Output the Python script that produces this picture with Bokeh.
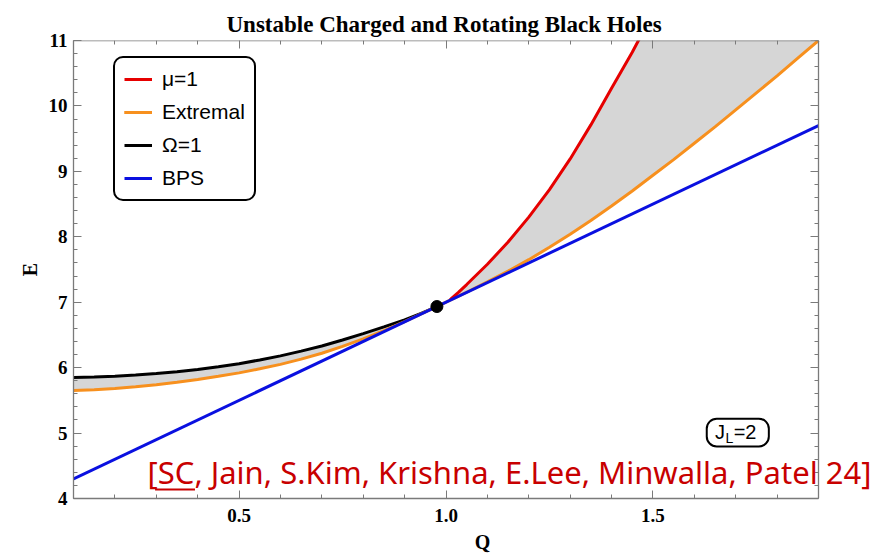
import numpy as np
from bokeh.plotting import figure
from bokeh.models import (Range1d, FixedTicker, LinearAxis, Legend, LegendItem,
                          Label, BoxAnnotation, PrintfTickFormatter)
from bokeh.embed import file_html
from bokeh.resources import INLINE

# ---------------- data ----------------
q_low = [0.1, 0.15, 0.2, 0.25, 0.3, 0.35, 0.4, 0.45, 0.5, 0.55, 0.6, 0.65,
         0.7, 0.75, 0.8, 0.85, 0.9, 0.94, 0.978]
e_extremal_low = [5.65, 5.663, 5.68, 5.708, 5.74, 5.778, 5.82, 5.868, 5.92,
                  5.982, 6.05, 6.13, 6.22, 6.325, 6.44, 6.565, 6.705, 6.822, 6.934]
e_omega = [5.85, 5.858, 5.87, 5.888, 5.91, 5.938, 5.97, 6.013, 6.06, 6.118,
           6.18, 6.253, 6.33, 6.423, 6.52, 6.623, 6.73, 6.83, 6.934]

q_high = [0.978, 1.0, 1.05, 1.1, 1.15, 1.2, 1.25, 1.3, 1.35, 1.4, 1.45, 1.5,
          1.55, 1.6, 1.65, 1.7, 1.75, 1.8, 1.85, 1.9]
e_extremal_high = [6.934, 7.0, 7.152, 7.31, 7.475, 7.65, 7.84, 8.04, 8.25,
                   8.47, 8.70, 8.94, 9.18, 9.43, 9.68, 9.94, 10.2, 10.46,
                   10.73, 11.0]

q_mu = [1.01, 1.03, 1.05, 1.1, 1.15, 1.2, 1.25, 1.3, 1.35, 1.4, 1.45, 1.475]
e_mu = [7.04, 7.15, 7.27, 7.58, 7.92, 8.30, 8.72, 9.19, 9.71, 10.27, 10.82, 11.12]

q_bps = [0.1, 1.9]
e_bps = [4.3, 9.7]

q_point = [0.978]
e_point = [6.934]

x_major = [0.5, 1.0, 1.5]
x_minor = [round(0.1 * i, 1) for i in range(1, 20)]
y_major = [4, 5, 6, 7, 8, 9, 10, 11]
y_minor = [round(4 + 0.2 * i, 1) for i in range(0, 36)]

X_MIN, X_MAX = 0.1, 1.9
Y_MIN, Y_MAX = 4.0, 11.0
# the citation runs past the right edge of the axes box, so the drawing area
# is widened to the right edge of the canvas and the box is drawn by the axes
X_VIEW_END = X_MIN + (X_MAX - X_MIN) * 818.0 / 745.0

RED = "#e60000"
ORANGE = "#f7901e"
BLUE = "#0a10e0"
GRAY_FILL = "#d6d6d6"
FRAME = "#7a7a7a"
CITE = "#c80000"

# ---------------- figure ----------------
p = figure(width=891, height=560, x_range=Range1d(X_MIN, X_VIEW_END),
           y_range=Range1d(Y_MIN, Y_MAX), output_backend="svg",
           toolbar_location=None, min_border_left=73, min_border_right=0,
           min_border_top=40, min_border_bottom=62,
           x_axis_label="Q", y_axis_label="E")
p.background_fill_color = "white"
p.border_fill_color = "white"
p.outline_line_color = None
p.grid.visible = False

p.title.text = "Unstable Charged and Rotating Black Holes"
p.title.align = "left"
p.title.offset = 153
p.title.vertical_align = "top"
p.title.text_font = "Liberation Serif"
p.title.text_font_style = "bold"
p.title.text_font_size = "23px"
p.title.text_color = "black"
p.title.standoff = 4


def style_axis(ax):
    ax.axis_line_color = FRAME
    ax.axis_line_width = 1.3
    ax.major_tick_line_color = FRAME
    ax.minor_tick_line_color = FRAME
    ax.major_tick_in = 8
    ax.major_tick_out = 0
    ax.minor_tick_in = 4
    ax.minor_tick_out = 0
    ax.major_label_text_font = "Liberation Serif"
    ax.major_label_text_font_style = "bold"
    ax.major_label_text_font_size = "19px"
    ax.major_label_text_color = "black"
    ax.axis_label_text_font = "Liberation Serif"
    ax.axis_label_text_font_style = "bold"
    ax.axis_label_text_font_size = "20px"
    ax.axis_label_text_color = "black"


xa = p.xaxis[0]
ya = p.yaxis[0]
xa.ticker = FixedTicker(ticks=x_major, minor_ticks=x_minor)
ya.ticker = FixedTicker(ticks=y_major, minor_ticks=y_minor)
xa.formatter = PrintfTickFormatter(format="%.1f")
style_axis(xa)
style_axis(ya)
xa.bounds = (X_MIN, X_MAX)
ya.bounds = (Y_MIN, Y_MAX)
xa.major_label_standoff = 10
xa.axis_label_standoff = 6
ya.major_label_standoff = 6
ya.axis_label_standoff = 5

top_ax = LinearAxis(ticker=FixedTicker(ticks=x_major, minor_ticks=x_minor),
                    major_label_overrides={t: "" for t in x_major},
                    fixed_location=Y_MAX, bounds=(X_MIN, X_MAX))
right_ax = LinearAxis(ticker=FixedTicker(ticks=y_major, minor_ticks=y_minor),
                      major_label_overrides={t: "" for t in y_major},
                      fixed_location=X_MAX, bounds=(Y_MIN, Y_MAX))
style_axis(top_ax)
style_axis(right_ax)
p.add_layout(top_ax, "above")
p.add_layout(right_ax, "right")

# ---------------- shaded regions ----------------
p.varea(x=q_low, y1=e_extremal_low, y2=e_omega, fill_color=GRAY_FILL)
q_fill = np.linspace(q_mu[0], X_MAX, 400)
lower = np.interp(q_fill, q_high, e_extremal_high)
upper = np.minimum(np.interp(q_fill, q_mu, e_mu), Y_MAX)
p.varea(x=q_fill, y1=lower, y2=upper, fill_color=GRAY_FILL)

# ---------------- curves ----------------
r_omega = p.line(q_low, e_omega, line_color="black", line_width=3)
r_ext_lo = p.line(q_low, e_extremal_low, line_color=ORANGE, line_width=3)
r_ext_hi = p.line(q_high, e_extremal_high, line_color=ORANGE, line_width=3)
r_mu = p.line(q_mu, e_mu, line_color=RED, line_width=3)
r_bps = p.line(q_bps, e_bps, line_color=BLUE, line_width=3)
p.scatter(q_point, e_point, size=12, fill_color="black", line_color="black")

legend = Legend(items=[
    LegendItem(label="μ=1", renderers=[r_mu]),
    LegendItem(label="Extremal", renderers=[r_ext_lo, r_ext_hi]),
    LegendItem(label="Ω=1", renderers=[r_omega]),
    LegendItem(label="BPS", renderers=[r_bps]),
], location=(40, 297))
legend.label_text_font = "Liberation Sans"
legend.label_text_font_size = "21px"
legend.label_text_color = "black"
legend.border_line_color = "black"
legend.border_line_width = 2
legend.border_line_alpha = 1
legend.background_fill_color = "white"
legend.background_fill_alpha = 1
legend.glyph_width = 28
legend.glyph_height = 24
legend.label_height = 24
legend.label_standoff = 10
legend.padding = 9
legend.spacing = 9
legend.margin = 0
try:
    legend.border_radius = 10
except Exception:
    pass
p.add_layout(legend)

# ---------------- J_L = 2 box ----------------
box = BoxAnnotation(left=1.630, right=1.780, bottom=4.795, top=5.22,
                    fill_alpha=0, line_color="black", line_alpha=1, line_width=2)
try:
    box.border_radius = 10
except Exception:
    pass
p.add_layout(box)
p.add_layout(Label(x=1.650, y=5.01, text="J", text_font="Liberation Sans",
                   text_font_size="20px", text_baseline="middle", text_color="black"))
p.add_layout(Label(x=1.675, y=4.925, text="L", text_font="Liberation Sans",
                   text_font_size="14px", text_baseline="middle", text_color="black"))
p.add_layout(Label(x=1.695, y=5.01, text="=2", text_font="Liberation Sans",
                   text_font_size="20px", text_baseline="middle", text_color="black"))

# ---------------- citation ----------------
p.add_layout(Label(x=0.279, y=4.405,
                   text="[SC, Jain, S.Kim, Krishna, E.Lee, Minwalla, Patel 24]",
                   text_font="Noto Sans", text_font_size="31px",
                   text_color=CITE, text_baseline="middle"))
p.add_layout(BoxAnnotation(left=0.2971, right=0.3935, bottom=4.122, top=4.153,
                           fill_color=CITE, fill_alpha=1, line_alpha=0))

open("out.html", "w").write(file_html(p, INLINE))
